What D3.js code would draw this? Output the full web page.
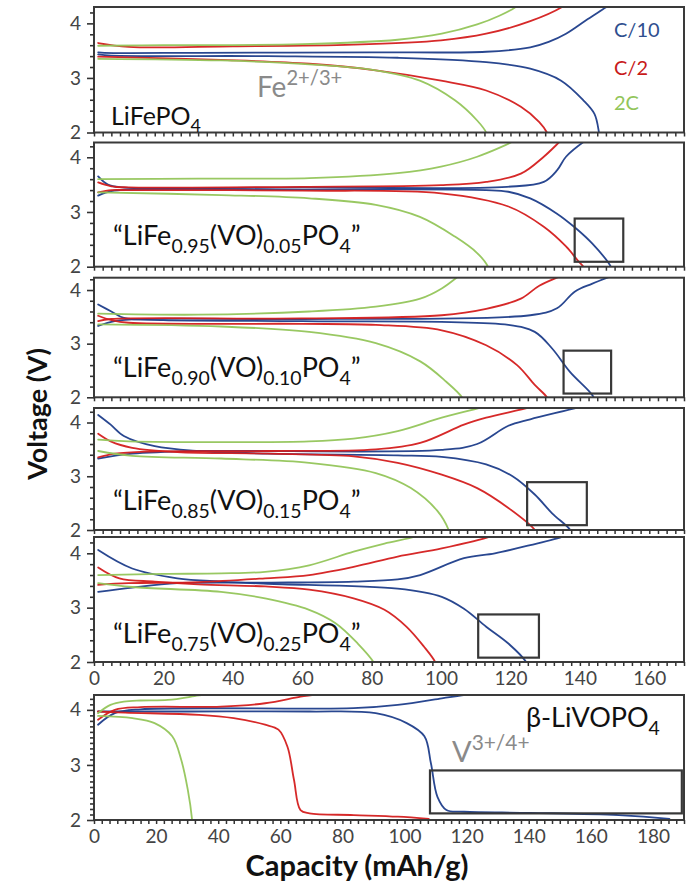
<!DOCTYPE html>
<html><head><meta charset="utf-8">
<script src="https://cdn.jsdelivr.net/npm/d3@7"></script>
<style>body{margin:0;background:#fff}svg{display:block}</style>
</head><body>
<svg id="chart" width="692" height="892"></svg>
<script>
// ---------- DATA (capacity mAh/g, voltage V) ----------
const rates = ["C/10", "C/2", "2C"];

// Panel 1: LiFePO4
const lfp_c10_ch  = [[1.2,3.47],[3,3.46],[30,3.46],[80,3.47],[113,3.48],[125.7,3.56],[131,3.66],[136,3.81],[142.3,4.08],[147.4,4.29],[149,4.36]];
const lfp_c10_dis = [[1.2,3.43],[5,3.41],[50,3.4],[87.5,3.37],[113,3.29],[125.7,3.17],[134.6,2.95],[141,2.59],[144.2,2.34],[145.5,2.0],[145.7,1.9]];
const lfp_c2_ch   = [[1.2,3.64],[10,3.57],[40,3.58],[74.8,3.61],[100,3.69],[113,3.81],[125.7,4.04],[134.6,4.29],[136,4.36]];
const lfp_c2_dis  = [[1.2,3.39],[36.6,3.33],[62,3.26],[81.2,3.14],[100,2.95],[113,2.77],[123,2.47],[128.3,2.19],[130.5,2.0],[131,1.9]];
const lfp_2c_ch   = [[1.2,3.59],[20,3.6],[60,3.62],[87.5,3.7],[100.2,3.81],[110.4,3.98],[116.8,4.14],[121.3,4.29],[122.5,4.36]];
const lfp_2c_dis  = [[1.2,3.35],[36.6,3.32],[62,3.25],[81.2,3.14],[93.9,2.95],[104,2.59],[110.4,2.22],[113,2.0],[113.3,1.9]];

// Panel 2: "LiFe0.95(VO)0.05PO4"
const v05_c10_ch  = [[1.2,3.65],[4,3.5],[8,3.45],[60,3.45],[119,3.46],[129.6,3.55],[133.4,3.76],[136,4.01],[141.7,4.31],[143,4.36]];
const v05_c10_dis = [[1.2,3.3],[5,3.38],[10,3.41],[60,3.41],[113,3.4],[119.4,3.37],[125.7,3.25],[133.4,2.97],[138.5,2.72],[143.6,2.42],[148.9,2.0],[149.2,1.9]];
const v05_c2_ch   = [[1.2,3.54],[5,3.47],[10,3.45],[60,3.46],[100,3.49],[113,3.55],[123,3.7],[129.6,4.01],[134.6,4.31],[135.5,4.36]];
const v05_c2_dis  = [[1.2,3.36],[5,3.4],[10,3.4],[60,3.39],[100,3.34],[119.4,3.1],[129.6,2.73],[136,2.37],[139.7,2.09],[141,2.0],[141.3,1.9]];
const v05_2c_ch   = [[1.2,3.6],[30,3.61],[62,3.62],[87.5,3.71],[100,3.83],[110.4,4.01],[121.3,4.31],[122.3,4.36]];
const v05_2c_dis  = [[1.2,3.36],[36.6,3.31],[62,3.25],[81.2,3.13],[93.9,2.91],[104,2.55],[110.4,2.25],[113.5,2.0],[113.8,1.9]];

// Panel 3: "LiFe0.90(VO)0.10PO4"
const v10_c10_ch  = [[1.2,3.33],[6,3.42],[15,3.46],[60,3.46],[125.7,3.53],[133.4,3.66],[138.5,3.97],[143.6,4.12],[151.2,4.31],[153,4.36]];
const v10_c10_dis = [[1.2,3.73],[5,3.6],[8.6,3.48],[20,3.44],[60,3.42],[119.4,3.35],[127,3.22],[132,2.91],[137.2,2.47],[143.6,2.04],[144.5,1.9]];
const v10_c2_ch   = [[1.2,3.42],[5,3.46],[60,3.47],[100.2,3.53],[113,3.65],[123,3.84],[128.3,4.08],[136,4.31],[137,4.36]];
const v10_c2_dis  = [[1.2,3.52],[5,3.44],[10,3.39],[60,3.37],[81.2,3.35],[100.2,3.25],[113,2.97],[121.9,2.6],[127,2.23],[130.5,2.0],[131,1.9]];
const v10_2c_ch   = [[1.2,3.56],[30,3.54],[62,3.6],[81.2,3.69],[94,3.84],[100.2,4.03],[106,4.31],[107,4.36]];
const v10_2c_dis  = [[1.2,3.36],[36.6,3.32],[62,3.22],[81.2,3.01],[94,2.67],[101.5,2.29],[106,2.0],[106.4,1.9]];

// Panel 4: "LiFe0.85(VO)0.15PO4"
const v15_c10_ch  = [[1.2,3.33],[11,3.42],[30,3.47],[100.2,3.49],[110.4,3.6],[119.4,3.94],[125.7,4.06],[141,4.31],[143,4.36]];
const v15_c10_dis = [[1.2,4.14],[4.8,3.96],[8.6,3.75],[17.5,3.56],[30.2,3.47],[50,3.42],[87.5,3.39],[100.2,3.36],[113,3.22],[120.6,3.0],[127,2.66],[132,2.31],[137.2,2.0],[137.6,1.9]];
const v15_c2_ch   = [[1.2,3.35],[6,3.42],[15,3.46],[50,3.47],[81.2,3.5],[94,3.62],[106.6,3.96],[113,4.09],[127,4.31],[128.5,4.36]];
const v15_c2_dis  = [[1.2,3.79],[4.8,3.65],[11,3.53],[24,3.45],[50,3.42],[74.8,3.37],[87.5,3.25],[100.2,3.03],[110.4,2.78],[119.4,2.41],[127,2.0],[127.5,1.9]];
const v15_2c_ch   = [[1.2,3.68],[10,3.65],[62,3.65],[74.8,3.7],[87.5,3.84],[100.2,4.09],[113,4.31],[114.5,4.36]];
const v15_2c_dis  = [[1.2,3.47],[11,3.38],[36.6,3.33],[62,3.25],[81.2,3.06],[91.3,2.78],[99,2.35],[102.2,2.0],[102.6,1.9]];

// Panel 5: "LiFe0.75(VO)0.25PO4"
const v25_c10_ch  = [[1.2,3.29],[11,3.37],[24,3.45],[50,3.46],[74.8,3.48],[87.5,3.52],[94,3.6],[106.6,3.91],[115.5,4.0],[125.7,4.15],[135.3,4.31],[137,4.36]];
const v25_c10_dis = [[1.2,4.06],[11,3.72],[24,3.54],[36.6,3.48],[50,3.44],[87.5,3.35],[100.2,3.2],[106.6,2.98],[113,2.65],[119.4,2.34],[124.5,2.0],[125,1.9]];
const v25_c2_ch   = [[1.2,3.42],[10,3.45],[30,3.47],[49.3,3.54],[62,3.6],[74.8,3.75],[87.5,3.94],[100.2,4.09],[114.3,4.31],[116,4.36]];
const v25_c2_dis  = [[1.2,3.74],[7.3,3.54],[17.5,3.48],[30,3.43],[49.3,3.39],[62,3.33],[74.8,3.17],[83.7,2.96],[90,2.65],[95.1,2.28],[98.3,2.0],[98.7,1.9]];
const v25_2c_ch   = [[1.2,3.6],[20,3.62],[36.6,3.63],[49.3,3.66],[62,3.78],[74.8,4.03],[83.7,4.18],[92.6,4.31],[94,4.36]];
const v25_2c_dis  = [[1.2,3.45],[11,3.38],[36.6,3.29],[49.3,3.17],[62,2.96],[69.7,2.71],[76,2.34],[80.5,2.0],[81,1.9]];

// Panel 6: beta-LiVOPO4
const livo_c10_ch  = [[1.3,3.73],[6.7,3.94],[15,4.01],[83.6,4.03],[97.8,4.09],[112,4.21],[120.6,4.29],[122,4.34]];
const livo_c10_dis = [[1.3,3.97],[30,3.97],[69.4,3.97],[90.7,3.94],[100.7,3.76],[106.4,3.52],[108.5,3.03],[110.6,2.42],[113.5,2.18],[119.2,2.15],[140.5,2.13],[169,2.09],[185.3,2.02]];
const livo_c2_ch   = [[1.3,3.82],[6.7,4.0],[15,4.05],[40.9,4.06],[55.1,4.12],[66.5,4.24],[72.2,4.29],[74,4.34]];
const livo_c2_dis  = [[1.3,3.97],[10,3.95],[33.8,3.91],[45,3.85],[55.1,3.73],[59.4,3.64],[62.3,3.33],[64.4,2.73],[66.5,2.18],[69.4,2.12],[83.6,2.09],[97.8,2.06],[107.8,2.02]];
const livo_2c_ch   = [[1.3,3.94],[5.3,4.09],[9.6,4.15],[15,4.17],[23.8,4.18],[32.4,4.25],[36.6,4.29],[38,4.34]];
const livo_2c_dis  = [[1.3,3.89],[12.4,3.85],[19.5,3.76],[25.2,3.52],[28.1,3.09],[30.2,2.55],[31.6,2.0],[31.7,1.9]];

// highlight boxes [x0, x1, v0, v1] per panel (null = none)
const boxes = [null, [138.5,152.5,2.09,2.88], [135.3,149,2.07,2.87], [124.8,142,2.09,2.89], [110.7,128.2,2.08,2.875], [108.2,189.3,2.12,2.9]];

const yTickValues = [2, 3, 4];
const xTickLabels5 = [0, 20, 40, 60, 80, 100, 120, 140, 160];
const xTickLabels6 = [0, 20, 40, 60, 80, 100, 120, 140, 160, 180];

// ---------- build table ----------
const panelCurves = [
  [lfp_c10_ch, lfp_c10_dis, lfp_c2_ch, lfp_c2_dis, lfp_2c_ch, lfp_2c_dis],
  [v05_c10_ch, v05_c10_dis, v05_c2_ch, v05_c2_dis, v05_2c_ch, v05_2c_dis],
  [v10_c10_ch, v10_c10_dis, v10_c2_ch, v10_c2_dis, v10_2c_ch, v10_2c_dis],
  [v15_c10_ch, v15_c10_dis, v15_c2_ch, v15_c2_dis, v15_2c_ch, v15_2c_dis],
  [v25_c10_ch, v25_c10_dis, v25_c2_ch, v25_c2_dis, v25_2c_ch, v25_2c_dis],
  [livo_c10_ch, livo_c10_dis, livo_c2_ch, livo_c2_dis, livo_2c_ch, livo_2c_dis]
];
const curveRate = [0,0,1,1,2,2];
const colors = ["#1d3d8a", "#d41e1e", "#93c55a"];

const layout = [
  {top:7,     bot:132.5, vmax:4.3,  xmax:170, minor:0.2},
  {top:142.5, bot:266.7, vmax:4.27, xmax:170, minor:0.2},
  {top:277.7, bot:397.3, vmax:4.23, xmax:170, minor:0.2},
  {top:408,   bot:530,   vmax:4.27, xmax:170, minor:0.2},
  {top:537,   bot:662,   vmax:4.3,  xmax:170, minor:0.2},
  {top:695,   bot:820,   vmax:4.27, xmax:190, minor:0.1}
];
const X0 = 94, X1 = 684;
const FONT = "Lato, 'Open Sans', sans-serif";

const svg = d3.select("#chart");
const defs = svg.append("defs");

layout.forEach((L, i) => {
  const x = d3.scaleLinear().domain([0, L.xmax]).range([X0, X1]);
  const y = d3.scaleLinear().domain([2, L.vmax]).range([L.bot, L.top]);
  const g = svg.append("g");

  defs.append("clipPath").attr("id", "clip" + i)
    .append("rect").attr("x", X0).attr("y", L.top).attr("width", X1 - X0).attr("height", L.bot - L.top);

  const line = d3.line().x(d => x(d[0])).y(d => y(d[1])).curve(d3.curveCatmullRom.alpha(0.5));
  const cg = g.append("g").attr("clip-path", `url(#clip${i})`);
  panelCurves[i].forEach((c, k) => {
    cg.append("path").attr("d", line(c)).attr("fill", "none")
      .attr("stroke", colors[curveRate[k]]).attr("stroke-width", 1.8)
      .attr("stroke-linejoin", "round").attr("stroke-linecap", "round").attr("opacity", 0.95);
  });

  if (boxes[i]) {
    const b = boxes[i];
    g.append("rect").attr("x", x(b[0])).attr("y", y(b[3]))
      .attr("width", x(b[1]) - x(b[0])).attr("height", y(b[2]) - y(b[3]))
      .attr("fill", "none").attr("stroke", "#383838").attr("stroke-width", 2.2);
  }

  g.append("rect").attr("x", X0).attr("y", L.top).attr("width", X1 - X0).attr("height", L.bot - L.top)
    .attr("fill", "none").attr("stroke", "#3a3a3a").attr("stroke-width", 2);

  const minorVals = d3.range(2, L.vmax + 1e-6, L.minor).filter(v => Math.abs(v - Math.round(v)) > 1e-6);
  const yMinor = d3.axisLeft(y).tickValues(minorVals).tickSize(4).tickFormat("");
  const ym = g.append("g").attr("transform", `translate(${X0},0)`).call(yMinor);
  ym.select(".domain").remove();
  ym.selectAll("line").attr("stroke", "#333").attr("stroke-width", 1.6);

  const yMajor = d3.axisLeft(y).tickValues(yTickValues).tickSize(7).tickPadding(6).tickFormat(d3.format("d"));
  const yg = g.append("g").attr("transform", `translate(${X0},0)`).call(yMajor);
  yg.select(".domain").remove();
  yg.selectAll("line").attr("stroke", "#333").attr("stroke-width", 1.6);
  yg.selectAll("text").attr("font-family", FONT).attr("font-size", 19).attr("fill", "#444");

  const xm = d3.axisBottom(x).tickValues(d3.range(0, L.xmax + 1e-6, 2.5)).tickSize(4).tickFormat("");
  const xg = g.append("g").attr("transform", `translate(0,${L.bot})`).call(xm);
  xg.select(".domain").remove();
  xg.selectAll("line").attr("stroke", "#333").attr("stroke-width", 1.5);

  if (i === 4 || i === 5) {
    const labs = i === 4 ? xTickLabels5 : xTickLabels6;
    const xl = d3.axisBottom(x).tickValues(labs).tickSize(0).tickPadding(10).tickFormat(d3.format("d"));
    const xlg = g.append("g").attr("transform", `translate(0,${L.bot})`).call(xl);
    xlg.select(".domain").remove();
    xlg.selectAll("text").attr("font-family", FONT).attr("font-size", 19).attr("fill", "#444");
  }
});

// ---------- texts ----------
function chem(parent, x, yb, size, parts, fill) {
  const t = parent.append("text").attr("x", x).attr("y", yb).attr("font-family", FONT)
    .attr("font-size", size).attr("fill", fill || "#111");
  let state = 0;
  parts.forEach(p => {
    const kind = p[0], str = p[1];
    const off = size * 0.28, sup = size * 0.42;
    const target = kind === "sub" ? off : kind === "sup" ? -sup : 0;
    const dy = target - state; state = target;
    t.append("tspan").attr("dy", dy).attr("font-size", kind === "n" ? size : size * 0.72).text(str);
  });
  return t;
}

chem(svg, 111, 125, 25, [["n","LiFePO"],["sub","4"]]);
const compositions = [["0.95","0.05"],["0.90","0.10"],["0.85","0.15"],["0.75","0.25"]];
const comboBase = [245, 377, 510, 643];
compositions.forEach((c, k) => {
  chem(svg, 113, comboBase[k], 27, [["n","\u201CLiFe"],["sub",c[0]],["n","(VO)"],["sub",c[1]],["n","PO"],["sub","4"],["n","\u201D"]]);
});
chem(svg, 526, 727, 27, [["n","\u03B2-LiVOPO"],["sub","4"]]);

chem(svg, 257, 97, 28, [["n","Fe"],["sup","2+/3+"]], "#8a8a8a");
chem(svg, 452, 762, 29, [["n","V"],["sup","3+/4+"]], "#8a8a8a");

const legY = [37, 75, 110];
rates.forEach((r, k) => {
  svg.append("text").attr("x", 614).attr("y", legY[k]).attr("font-family", FONT)
    .attr("font-size", 20).attr("fill", k === 0 ? "#2f4f8f" : k === 1 ? "#c81a1a" : "#92c55a").text(r);
});

svg.append("text").attr("transform", "translate(47,414) rotate(-90)").attr("text-anchor", "middle")
  .attr("font-family", FONT).attr("font-weight", "bold").attr("font-size", 27).attr("fill", "#111").text("Voltage (V)");
svg.append("text").attr("x", 357).attr("y", 876).attr("text-anchor", "middle")
  .attr("font-family", FONT).attr("font-weight", "bold").attr("font-size", 29).attr("fill", "#111").text("Capacity (mAh/g)");
</script>
</body></html>
